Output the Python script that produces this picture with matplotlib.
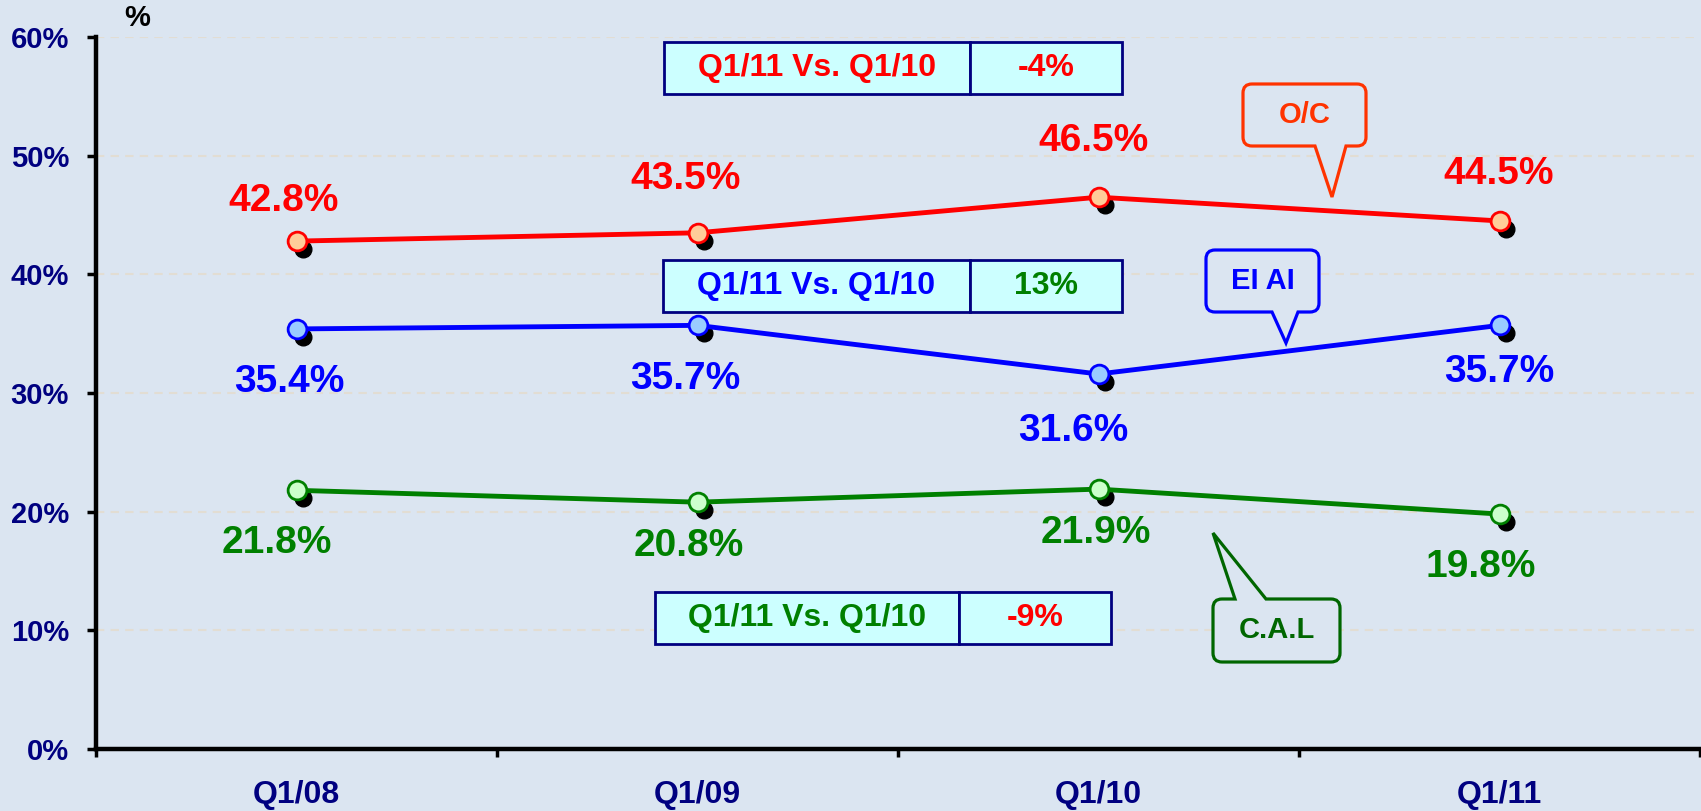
import matplotlib
matplotlib.use("Agg")
import matplotlib.pyplot as plt
from matplotlib.path import Path
from matplotlib.patches import PathPatch, Rectangle
from matplotlib.transforms import offset_copy

plt.rcParams['font.family'] = ['Liberation Sans', 'DejaVu Sans']
plt.rcParams['font.weight'] = 'bold'

# ---- data ----
categories = ["Q1/08", "Q1/09", "Q1/10", "Q1/11"]
oc_values = [42.8, 43.5, 46.5, 44.5]
elal_values = [35.4, 35.7, 31.6, 35.7]
cal_values = [21.8, 20.8, 21.9, 19.8]
y_ticks = [0, 10, 20, 30, 40, 50, 60]
y_tick_labels = ["0%", "10%", "20%", "30%", "40%", "50%", "60%"]
compare_label = "Q1/11 Vs. Q1/10"
compare_values = ["-4%", "13%", "-9%"]
series_names = ["O/C", "EI AI", "C.A.L"]

W, H = 1701, 811
DPI = 100
BG = '#dbe5f1'
fig = plt.figure(figsize=(W / DPI, H / DPI), dpi=DPI, facecolor=BG)
PX = 72.0 / DPI  # points per pixel


def fx(x):
    return x / W


def fy(y):
    return 1 - y / H


ax = fig.add_axes([fx(96), fy(749), fx(1700) - fx(96), fy(37) - fy(749)])
ax.set_facecolor(BG)
ax.set_xlim(-0.5, 3.5)
ax.set_ylim(0, 60)

for s in ['top', 'right']:
    ax.spines[s].set_visible(False)
for s in ['left', 'bottom']:
    ax.spines[s].set_linewidth(3.2)
    ax.spines[s].set_color('black')

ax.set_yticks(y_ticks)
ax.set_yticklabels(y_tick_labels, fontsize=21, color='#000080', fontweight='bold')
ax.tick_params(axis='y', length=9 * PX, width=2.5, pad=18 * PX, direction='out')

ax.set_xticks([-0.5, 0.5, 1.5, 2.5, 3.5])
ax.set_xticklabels([])
ax.tick_params(axis='x', which='major', length=8 * PX, width=2.5, direction='out')
ax.set_xticks(range(len(categories)), minor=True)
ax.set_xticklabels(categories, minor=True, fontsize=23, color='#000080', fontweight='bold')
ax.tick_params(axis='x', which='minor', length=0, pad=31 * PX)

for yv in y_ticks[1:]:
    ax.axhline(yv, color='#e2ddd3', lw=1.5, ls=(0, (4, 3)), zorder=0.5)

shadow_tr = offset_copy(ax.transData, fig=fig, x=6, y=-8, units='dots')

series = [
    (oc_values, '#ff0000', '#ffcc99', '#ff0000',
     [(-13, -40), (-12, -54), (-5, -56), (-1, -47)]),
    (elal_values, '#0000ff', '#99ccff', '#0000ff',
     [(-7, 53), (-12, 54), (-25, 57), (0, 47)]),
    (cal_values, '#008000', '#ccffcc', '#008000',
     [(-20, 53), (-9, 44), (-3, 44), (-19, 53)]),
]

xs = list(range(len(categories)))
for vals, lc, fc, tc, offs in series:
    ax.plot(xs, vals, ls='none', marker='o', ms=12, mfc='black', mec='black',
            transform=shadow_tr, zorder=2, clip_on=False)
    ax.plot(xs, vals, color=lc, lw=3.5, zorder=3, marker='o', ms=13.5, mfc=fc,
            mec=lc, mew=2, clip_on=False)
    for x, v, (dx, dy) in zip(xs, vals, offs):
        ax.annotate(f"{v:.1f}%", (x, v), xytext=(dx * PX, -dy * PX),
                    textcoords='offset points', ha='center', va='center',
                    fontsize=28, color=tc, fontweight='bold', zorder=5)

# "%" axis unit label
fig.text(fx(137), fy(18), "%", fontsize=21, fontweight='bold', color='black',
         ha='center', va='center')

# comparison tables
tables = [
    ((664, 42, 1122, 94, 970), '#ff0000', compare_values[0], '#ff0000'),
    ((663, 260, 1122, 312, 970), '#0000ff', compare_values[1], '#008000'),
    ((655, 592, 1111, 644, 959), '#008000', compare_values[2], '#ff0000'),
]
for (x0, y0, x1, y1, xd), lcol, val, vcol in tables:
    for a, b in [(x0, xd), (xd, x1)]:
        r = Rectangle((fx(a), fy(y1)), fx(b) - fx(a), fy(y0) - fy(y1),
                      transform=fig.transFigure, facecolor='#ccffff',
                      edgecolor='#000080', lw=2)
        fig.add_artist(r)
    yc = (y0 + y1) / 2
    fig.text(fx((x0 + xd) / 2), fy(yc), compare_label, fontsize=23,
             fontweight='bold', color=lcol, ha='center', va='center')
    fig.text(fx((xd + x1) / 2), fy(yc), val, fontsize=23,
             fontweight='bold', color=vcol, ha='center', va='center')


def callout(x0, y0, x1, y1, b1, tip, b2, side, r=9):
    verts = []
    codes = []

    def P(x, y):
        return (fx(x), fy(y))

    verts.append(P(x0 + r, y0)); codes.append(Path.MOVETO)
    if side == 'top':
        verts += [P(b1, y0), P(*tip), P(b2, y0)]
        codes += [Path.LINETO] * 3
    verts.append(P(x1 - r, y0)); codes.append(Path.LINETO)
    verts += [P(x1, y0), P(x1, y0 + r)]; codes += [Path.CURVE3] * 2
    verts.append(P(x1, y1 - r)); codes.append(Path.LINETO)
    verts += [P(x1, y1), P(x1 - r, y1)]; codes += [Path.CURVE3] * 2
    if side == 'bottom':
        verts += [P(b2, y1), P(*tip), P(b1, y1)]
        codes += [Path.LINETO] * 3
    verts.append(P(x0 + r, y1)); codes.append(Path.LINETO)
    verts += [P(x0, y1), P(x0, y1 - r)]; codes += [Path.CURVE3] * 2
    verts.append(P(x0, y0 + r)); codes.append(Path.LINETO)
    verts += [P(x0, y0), P(x0 + r, y0)]; codes += [Path.CURVE3] * 2
    verts.append(P(x0 + r, y0)); codes.append(Path.CLOSEPOLY)
    return Path(verts, codes)


callouts = [
    (series_names[0], '#ff3300', (1243, 84, 1366, 146, 1315, (1332, 197), 1346, 'bottom')),
    (series_names[1], '#0000ff', (1206, 250, 1319, 312, 1272, (1286, 343), 1298, 'bottom')),
    (series_names[2], '#006600', (1213, 599, 1340, 662, 1235, (1213, 533), 1266, 'top')),
]
for name, col, (x0, y0, x1, y1, b1, tip, b2, side) in callouts:
    p = callout(x0, y0, x1, y1, b1, tip, b2, side)
    fig.add_artist(PathPatch(p, transform=fig.transFigure, facecolor=BG,
                             edgecolor=col, lw=2.3, joinstyle='miter'))
    fig.text(fx((x0 + x1) / 2), fy((y0 + y1) / 2), name, fontsize=21,
             fontweight='bold', color=col, ha='center', va='center')

fig.savefig("out.png", dpi=DPI, facecolor=BG)
